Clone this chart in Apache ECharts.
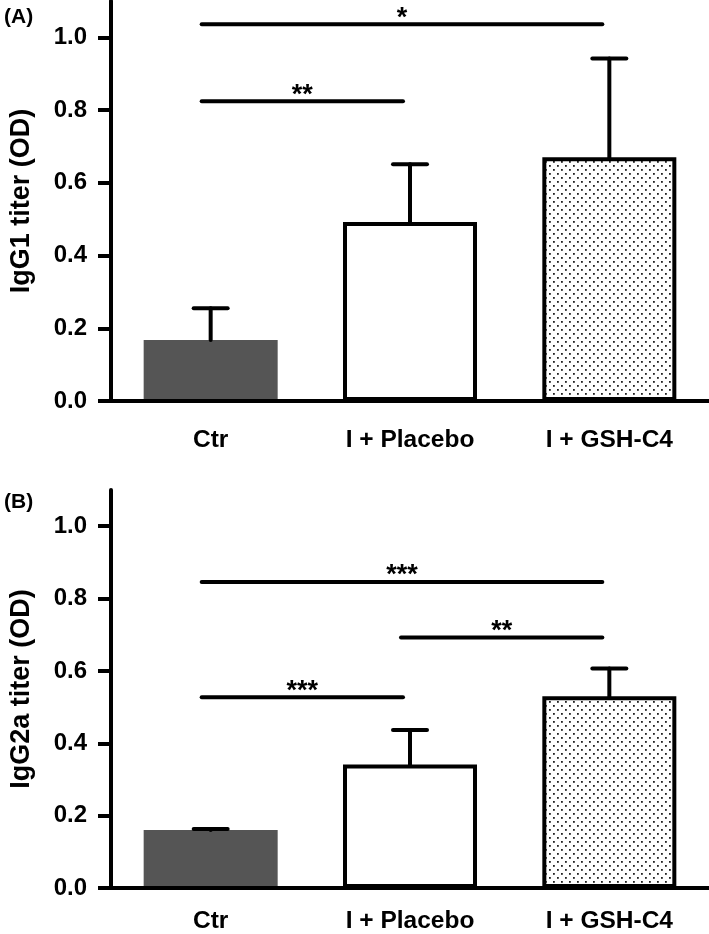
<!DOCTYPE html>
<html>
<head>
<meta charset="utf-8">
<script src="https://cdn.jsdelivr.net/npm/echarts@6/dist/echarts.min.js"></script>
<style>html,body{margin:0;padding:0;background:#fff}#c{width:709px;height:934px}</style>
</head>
<body>
<div id="c"></div>
<script>
// ---- data ----
const categories = ['Ctr', 'I + Placebo', 'I + GSH-C4'];
const yTicks = [0, 0.2, 0.4, 0.6, 0.8, 1.0];
const igg1Mean = [0.168, 0.492, 0.67];
const igg1Upper = [0.255, 0.651, 0.942];
const igg2aMean = [0.160, 0.341, 0.530];
const igg2aUpper = [0.163, 0.437, 0.607];
// significance brackets: [fromCategory, toCategory, height]
const sigA = [[0, 1, 0.824], [0, 2, 1.036]];
const sigALabels = ['**', '*'];
const sigB = [[0, 1, 0.527], [1, 2, 0.692], [0, 2, 0.846]];
const sigBLabels = ['***', '**', '***'];

// ---- styles ----
const FONT = 'Liberation Sans, Arial, Helvetica, sans-serif';
const pat = document.createElement('canvas');
pat.width = 8; pat.height = 8;
(function(){
  const g = pat.getContext('2d');
  g.fillStyle = '#fff'; g.fillRect(0,0,8,8);
  g.fillStyle = '#222';
  g.fillRect(1,1,1.8,1.8);
  g.fillRect(5,5,1.8,1.8);
})();
const barStyles = [
  {color: '#555555', borderColor: '#555555', borderWidth: 4},
  {color: '#ffffff', borderColor: '#000', borderWidth: 4},
  {color: {image: pat, repeat: 'repeat'}, borderColor: '#000', borderWidth: 4}
];

function xAxisCfg(gi, margin){
  return {
    type: 'category', gridIndex: gi, data: categories, z: 5,
    axisLine: {lineStyle: {color: '#000', width: 4}},
    axisTick: {alignWithLabel: true, length: 14, lineStyle: {color: '#000', width: 4}},
    axisLabel: {color: '#000', fontFamily: FONT, fontWeight: 'bold', fontSize: 24.5, margin: margin}
  };
}
function yAxisCfg(gi, name){
  return {
    type: 'value', gridIndex: gi, min: 0, max: 1.1, z: 5,
    name: name, nameLocation: 'middle', nameGap: 76,
    nameTextStyle: {color: '#000', fontFamily: FONT, fontWeight: 'bold', fontSize: 27},
    axisLine: {show: true, lineStyle: {color: '#000', width: 4}},
    axisTick: {show: true, length: 13, customValues: yTicks, lineStyle: {color: '#000', width: 4}},
    axisLabel: {customValues: yTicks, color: '#000', fontFamily: FONT, fontWeight: 'bold', fontSize: 24, margin: 24,
      formatter: v => Number(v).toFixed(1)},
    splitLine: {show: false}
  };
}
function barSeries(gi, means){
  return {
    type: 'bar', xAxisIndex: gi, yAxisIndex: gi, barWidth: 134, z: 2,
    data: means.map((v, i) => ({value: v, itemStyle: barStyles[i]})),
    emphasis: {disabled: true}, animation: false
  };
}
function errSeries(gi, means, uppers){
  return {
    type: 'custom', xAxisIndex: gi, yAxisIndex: gi, z: 4, animation: false,
    data: means.map((v, i) => [i, v, uppers[i]]),
    encode: {x: 0, y: [1, 2]},
    renderItem: function(params, api){
      const b = api.coord([api.value(0), api.value(1)]);
      const t = api.coord([api.value(0), api.value(2)]);
      const st = {stroke: '#000', lineWidth: 4, lineCap: 'round'};
      return {type: 'group', children: [
        {type: 'line', shape: {x1: b[0], y1: b[1], x2: t[0], y2: t[1]}, style: st},
        {type: 'line', shape: {x1: t[0]-17, y1: t[1], x2: t[0]+17, y2: t[1]}, style: st}
      ]};
    }
  };
}
function sigSeries(gi, sig, labels){
  return {
    type: 'custom', xAxisIndex: gi, yAxisIndex: gi, z: 4, animation: false,
    data: sig, encode: {x: [0, 1], y: 2},
    renderItem: function(params, api){
      const p1 = api.coord([api.value(0), api.value(2)]);
      const p2 = api.coord([api.value(1), api.value(2)]);
      const x1 = p1[0] - 9, x2 = p2[0] - 7;
      return {type: 'group', children: [
        {type: 'line', shape: {x1: x1, y1: p1[1], x2: x2, y2: p1[1]},
          style: {stroke: '#000', lineWidth: 4, lineCap: 'round'}},
        {type: 'text', style: {text: labels[params.dataIndex], x: (x1 + x2) / 2, y: p1[1] - 6,
          align: 'center', verticalAlign: 'middle', fill: '#000',
          font: 'bold 27px ' + FONT}}
      ]};
    }
  };
}

const chart = echarts.init(document.getElementById('c'), null, {renderer: 'canvas'});
chart.setOption({
  animation: false,
  backgroundColor: '#fff',
  grid: [
    {left: 105, right: 0, top: 1, height: 400},
    {left: 105, right: 0, top: 490, height: 400}
  ],
  xAxis: [xAxisCfg(0, 27), xAxisCfg(1, 21)],
  yAxis: [yAxisCfg(0, 'IgG1 titer (OD)'), yAxisCfg(1, 'IgG2a titer (OD)')],
  graphic: [
    {type: 'text', left: 4, top: 7, style: {text: '(A)', font: 'bold 21px ' + FONT, fill: '#000'}},
    {type: 'text', left: 4, top: 492, style: {text: '(B)', font: 'bold 21px ' + FONT, fill: '#000'}}
  ],
  series: [
    barSeries(0, igg1Mean), errSeries(0, igg1Mean, igg1Upper), sigSeries(0, sigA, sigALabels),
    barSeries(1, igg2aMean), errSeries(1, igg2aMean, igg2aUpper), sigSeries(1, sigB, sigBLabels)
  ]
});
</script>
</body>
</html>
